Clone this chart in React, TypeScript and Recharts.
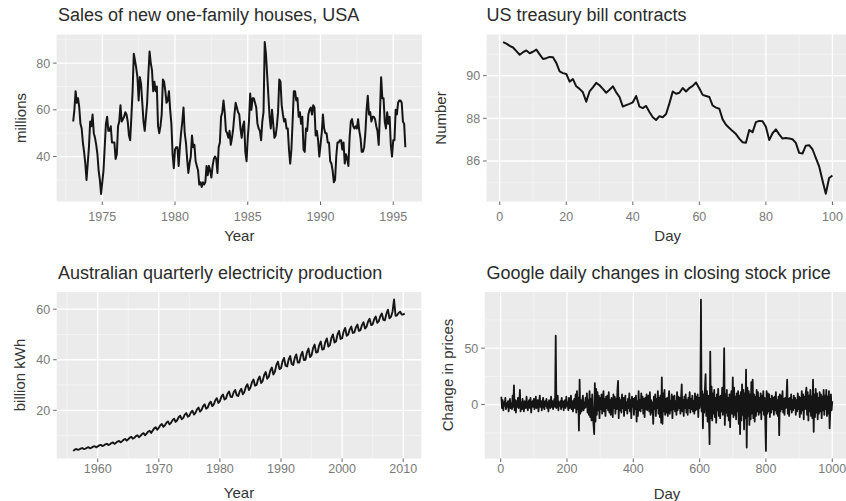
import React from "react";
import { LineChart, Line, XAxis, YAxis, CartesianGrid } from "recharts";

// Monthly new one-family house sales, Jan 1973 .. Nov 1995
const houseSales = [
  55, 60, 68, 63, 65, 61, 54, 52, 46, 42, 37, 30,
  37, 44, 55, 53, 58, 50, 48, 45, 41, 34, 30, 24,
  29, 34, 44, 54, 57, 51, 51, 53, 46, 46, 46, 39,
  41, 53, 55, 62, 55, 56, 57, 59, 58, 55, 49, 47,
  57, 68, 84, 81, 78, 74, 64, 74, 71, 63, 55, 51,
  57, 63, 75, 85, 80, 77, 68, 72, 68, 70, 53, 50,
  53, 58, 73, 72, 68, 63, 64, 68, 60, 54, 41, 35,
  43, 44, 44, 36, 44, 50, 55, 61, 50, 46, 39, 33,
  37, 40, 49, 44, 45, 38, 36, 34, 28, 29, 27, 29,
  28, 29, 36, 32, 36, 34, 31, 36, 39, 40, 39, 33,
  44, 46, 57, 59, 64, 59, 51, 50, 48, 51, 45, 48,
  52, 58, 63, 61, 59, 58, 52, 48, 53, 55, 42, 38,
  48, 55, 67, 60, 65, 65, 63, 61, 54, 52, 51, 47,
  55, 59, 89, 84, 75, 66, 57, 52, 60, 54, 48, 49,
  53, 59, 73, 72, 62, 58, 55, 56, 52, 52, 43, 37,
  43, 55, 68, 68, 64, 65, 57, 59, 54, 57, 43, 42,
  52, 51, 58, 60, 61, 58, 62, 61, 49, 51, 47, 40,
  45, 50, 58, 52, 50, 50, 46, 46, 38, 37, 34, 29,
  30, 40, 46, 46, 47, 47, 43, 46, 37, 41, 39, 36,
  48, 55, 56, 53, 52, 53, 52, 56, 51, 48, 42, 42,
  44, 50, 60, 66, 58, 59, 55, 57, 57, 56, 53, 51,
  45, 58, 74, 65, 65, 55, 52, 59, 54, 57, 45, 40,
  47, 47, 60, 58, 63, 64, 64, 63, 55, 54, 44,
];

// Treasury bill contracts, days 1..100
const treasury = [
  91.57, 91.5, 91.4, 91.32, 91.15, 90.98, 91.1, 91.18, 91.05, 91.12,
  91.22, 91.0, 90.78, 90.82, 90.88, 90.86, 90.6, 90.2, 90.12, 90.08,
  89.72, 89.84, 89.5, 89.38, 89.22, 88.78, 89.26, 89.45, 89.66, 89.55,
  89.38, 89.2, 89.34, 89.5, 89.22, 89.0, 88.55, 88.62, 88.68, 88.75,
  89.05, 88.55, 88.48, 88.58, 88.3, 88.05, 87.92, 88.1, 88.05, 88.2,
  88.7, 89.26, 89.15, 89.2, 89.42, 89.26, 89.42, 89.52, 89.68, 89.4,
  89.1, 89.05, 89.0, 88.6, 88.5, 88.45, 87.95, 87.7, 87.55, 87.4,
  87.26, 87.05, 86.88, 86.85, 87.45, 87.35, 87.82, 87.88, 87.86, 87.6,
  86.98, 87.3, 87.48, 87.25, 87.05, 87.08, 87.05, 87.02, 86.85, 86.38,
  86.35, 86.72, 86.74, 86.55, 86.15, 85.75, 85.1, 84.46, 85.2, 85.32,
];

// Quarterly electricity production, 1956 Q1 .. 2010 Q2
const electricity = [
  3.92, 4.44, 4.7, 4.35,  4.56, 4.9, 5.06, 4.68,  4.85, 5.2, 5.38, 4.97,
  5.23, 5.61, 5.8, 5.36,  5.7, 6.12, 6.33, 5.85,  6.08, 6.53, 6.75, 6.24,
  6.56, 7.04, 7.28, 6.73,  7.13, 7.65, 7.91, 7.31,  7.79, 8.36, 8.65, 8.0,
  8.55, 9.18, 9.5, 8.78,  9.12, 9.79, 10.13, 9.36,  9.88, 10.61, 10.97, 10.14,
  10.74, 11.53, 11.92, 11.02,  11.97, 12.85, 13.29, 12.29,  13.11, 14.08, 14.56, 13.46,
  14.06, 15.1, 15.61, 14.43,  15.01, 16.12, 16.67, 15.41,  16.06, 17.24, 17.83, 16.48,
  17.01, 18.26, 18.88, 17.45,  17.86, 19.18, 19.83, 18.33,  19.0, 20.4, 21.1, 19.5,
  20.14, 21.62, 22.37, 20.67,  21.09, 22.64, 23.42, 21.65,  22.33, 23.97, 24.79, 22.91,
  23.66, 25.4, 26.27, 24.28,  24.7, 26.52, 27.43, 25.35,  25.27, 27.13, 28.06, 25.94,
  25.65, 27.54, 28.49, 26.33,  27.27, 29.27, 30.28, 27.98,  28.98, 31.11, 32.18, 29.74,
  30.02, 32.23, 33.34, 30.81,  31.64, 33.97, 35.13, 32.47,  33.25, 35.7, 36.93, 34.13,
  35.34, 37.94, 39.25, 36.27,  36.67, 39.37, 40.72, 37.64,  37.34, 40.09, 41.46, 38.32,
  37.91, 40.7, 42.09, 38.9,  38.86, 41.72, 43.15, 39.88,  40.0, 42.94, 44.42, 41.05,
  41.8, 44.6, 46.0, 42.8,  43.0, 45.8, 47.2, 44.0,  44.2, 47.0, 48.4, 45.2,
  45.8, 48.6, 50.0, 46.8,  47.2, 50.0, 51.4, 48.2,  48.5, 51.2, 52.6, 49.5,
  50.0, 52.0, 53.1, 50.6,  50.8, 52.8, 53.9, 51.4,  51.7, 53.7, 54.8, 52.3,
  53.1, 55.1, 56.2, 53.7,  54.0, 56.0, 57.1, 54.6,  55.2, 57.2, 58.3, 55.8,
  55.6, 58.2, 59.8, 56.4,  57.0, 59.0, 63.8, 57.4,  57.6, 58.5, 59.0, 57.9,
  57.9, 58.2,
];

// Google daily closing price changes, every second day from day 2 to day 1000
const googleChange = [
  7, -3, 4, -5, 2, -1, 6, -4, 1, -2,
  3, -6, 2, 5, -3, 1, -4, 8, -2, 17,
  -5, 4, -7, 3, -2, 6, -3, 1, 13, -6,
  2, -4, 5, -2, -6, 3, 1, -3, 7, -1,
  -5, 2, 4, -3, 6, -7, 1, 3, -2, 5,
  -4, 1, 7, -3, -1, 4, -6, 2, 8, -2,
  3, -5, 1, 6, -2, -4, 3, -1, 5, -3,
  2, -6, 4, 1, -3, 7, -2, 3, -4, 1,
  5, -2, 61, -3, 4, 8, -5, 2, -1, 3,
  -4, 6, -2, 3, -5, 1, 4, -3, 7, -1,
  2, -5, 6, -3, 1, 8, -4, 3, -6, 2,
  5, -3, 9, -7, 12, -4, 6, -23, 22, -8,
  4, -6, 3, 8, -5, 2, -3, 6, -2, 10,
  -7, 4, -9, 12, -11, 5, -14, 9, -6, -18,
  -26, 19, -15, 14, -9, 11, -5, 8, -12, 6,
  -4, 9, -8, 3, 12, -6, 5, -10, 7, -3,
  8, -5, 11, -7, 4, -9, 6, 2, -11, 9,
  -3, 7, -8, 5, -4, 12, 21, -12, 6, -5,
  4, -7, 9, -3, 6, -10, 3, 8, -5, 2,
  -8, 5, -3, 10, -6, 4, -12, 7, -2, 5,
  -9, 6, -4, 8, -15, 3, -10, 12, -5, 4,
  -6, 10, -3, 7, -8, 5, -11, 6, -4, 9,
  -5, 3, 8, -6, 11, -9, 4, -7, 2, -17,
  7, -4, 9, -10, 5, -3, 12, -8, 6, -11,
  8, -16, 24, -17, 10, -6, 13, -9, 5, -7,
  6, -10, 4, 12, -8, 3, -5, 9, -12, 7,
  -4, 8, -6, 3, -9, 11, -5, 7, -3, 6,
  -8, 5, 18, -6, 4, -10, 7, -3, 9, -7,
  4, -9, 6, -3, 11, -7, 5, -4, 8, -6,
  3, -8, 10, -5, 7, -4, 9, -11, 6, -3,
  8, 93, -6, 12, -21, 9, -7, 14, 27, -10,
  12, -15, 8, -9, -35, 47, -12, 16, -14, 10,
  -8, 13, -11, 6, -16, 9, -5, 14, -10, 7,
  -12, 8, -6, 15, -9, 11, 50, -18, 9, -7,
  13, -10, 6, -14, 9, -20, 7, 12, -8, 24,
  -11, 15, -9, 7, -13, 10, -6, 12, -17, 8,
  -26, 11, -14, 18, -9, 13, -22, 10, -12, 31,
  -38, 15, -10, 12, -18, 9, -13, 20, -8, 22,
  -12, 9, -15, 7, -10, 13, -6, 11, -9, 6,
  -7, 10, -13, 8, -5, 12, -9, 6, -14, -41,
  12, -8, 10, -6, 9, -11, 5, -7, 8, -4,
  6, -9, 7, -5, 11, -8, 4, -10, 7, -27,
  9, -6, 8, -4, 12, -7, 5, -9, 6, -3,
  7, 22, -8, 5, -10, 6, -4, 9, -7, 4,
  -5, 8, -3, 6, -9, 4, -6, 10, -4, 7,
  -11, 6, -8, 12, -5, 9, -13, 7, -4, 10,
  15, -9, 11, -14, 8, -6, 13, -10, 7, -12,
  22, -24, 9, -11, 14, -7, 10, -13, 6, -8,
  11, -6, 9, -12, 7, -5, 13, -9, 8, -4,
  13, -10, 7, -8, 12, -21, -6, 9, -5, 3,
];

const yearTicksA = [1975, 1980, 1985, 1990, 1995];
const yearMinorA = [1972.5, 1977.5, 1982.5, 1987.5, 1992.5];
const salesTicks = [40, 60, 80];
const salesMinor = [30, 50, 70, 90];

const dayTicksB = [0, 20, 40, 60, 80, 100];
const dayMinorB = [10, 30, 50, 70, 90];
const treasuryTicks = [86, 88, 90];
const treasuryMinor = [85, 87, 89, 91];

const yearTicksC = [1960, 1970, 1980, 1990, 2000, 2010];
const yearMinorC = [1955, 1965, 1975, 1985, 1995, 2005];
const elecTicks = [20, 40, 60];
const elecMinor = [10, 30, 50];

const dayTicksD = [0, 200, 400, 600, 800, 1000];
const dayMinorD = [100, 300, 500, 700, 900];
const googTicks = [0, 50];
const googMinor = [-25, 25, 75];

const FONT = '"Liberation Sans", Arial, Helvetica, sans-serif';
const tickText = { fontSize: 12.5, fill: "#7a7a7a", fontFamily: FONT };

type Box = { left: number; top: number; width: number; height: number };
type Plot = { x0: number; x1: number; y0: number; y1: number };

interface PanelProps {
  data: { x: number; y: number }[];
  box: Box;
  plot: Plot;
  xDomain: [number, number];
  yDomain: [number, number];
  xTicks: number[];
  xMinor: number[];
  yTicks: number[];
  yMinor: number[];
  lineWidth: number;
  xTickGap: number;
}

function Panel(p: PanelProps) {
  const { box, plot } = p;
  const margin = {
    top: plot.y0 - box.top,
    right: box.left + box.width - plot.x1,
    bottom: 0,
    left: 0,
  };
  return (
    <div style={{ position: "absolute", left: box.left, top: box.top }}>
      <LineChart width={box.width} height={box.height} data={p.data} margin={margin}>
        <CartesianGrid
          fill="#EBEBEB"
          stroke="#F6F6F6"
          strokeWidth={0.7}
          horizontalValues={p.yMinor}
          verticalValues={p.xMinor}
        />
        <CartesianGrid
          stroke="#FFFFFF"
          strokeWidth={1.3}
          horizontalValues={p.yTicks}
          verticalValues={p.xTicks}
        />
        <XAxis
          type="number"
          dataKey="x"
          domain={p.xDomain}
          ticks={p.xTicks}
          interval={0}
          allowDataOverflow
          axisLine={false}
          tickSize={3.5}
          tickMargin={p.xTickGap}
          tickLine={{ stroke: "#666" }}
          tick={tickText}
          height={box.top + box.height - plot.y1}
        />
        <YAxis
          type="number"
          domain={p.yDomain}
          ticks={p.yTicks}
          interval={0}
          allowDataOverflow
          axisLine={false}
          tickSize={3.5}
          tickMargin={3}
          tickLine={{ stroke: "#666" }}
          tick={tickText}
          width={plot.x0 - box.left}
        />
        <Line
          type="linear"
          dataKey="y"
          stroke="#151515"
          strokeWidth={p.lineWidth}
          strokeLinejoin="round"
          dot={false}
          isAnimationActive={false}
        />
      </LineChart>
    </div>
  );
}

export default function App() {
  const salesData = houseSales.map((v, i) => ({ x: 1973 + i / 12, y: v }));
  const treasuryData = treasury.map((v, i) => ({ x: i + 1, y: v }));
  const elecData = electricity.map((v, i) => ({ x: 1956 + i / 4, y: v }));
  const googData = googleChange.map((v, i) => ({ x: (i + 1) * 2, y: v }));

  return (
    <div
      style={{
        position: "absolute",
        left: 0,
        top: 0,
        width: 846,
        height: 501,
        overflow: "hidden",
        background: "#fff",
        fontFamily: FONT,
      }}
    >
      <Panel
        data={salesData}
        box={{ left: 0, top: 0, width: 423, height: 250 }}
        plot={{ x0: 56.6, x1: 421.9, y0: 34.5, y1: 201.5 }}
        xDomain={[1971.86, 1996.97]}
        yDomain={[20.75, 92.25]}
        xTicks={yearTicksA}
        xMinor={yearMinorA}
        yTicks={salesTicks}
        yMinor={salesMinor}
        lineWidth={2}
        xTickGap={7.5}
      />
      <Panel
        data={treasuryData}
        box={{ left: 423, top: 0, width: 430, height: 250 }}
        plot={{ x0: 486.6, x1: 848.9, y0: 34.5, y1: 201.5 }}
        xDomain={[-3.95, 104.95]}
        yDomain={[84.1, 91.93]}
        xTicks={dayTicksB}
        xMinor={dayMinorB}
        yTicks={treasuryTicks}
        yMinor={treasuryMinor}
        lineWidth={2}
        xTickGap={7.5}
      />
      <Panel
        data={elecData}
        box={{ left: 0, top: 250, width: 423, height: 251 }}
        plot={{ x0: 56.7, x1: 421.3, y0: 292, y1: 458.5 }}
        xDomain={[1953.29, 2012.96]}
        yDomain={[0.93, 66.79]}
        xTicks={yearTicksC}
        xMinor={yearMinorC}
        yTicks={elecTicks}
        yMinor={elecMinor}
        lineWidth={1.9}
        xTickGap={2}
      />
      <Panel
        data={googData}
        box={{ left: 423, top: 250, width: 430, height: 251 }}
        plot={{ x0: 484.8, x1: 848.8, y0: 292, y1: 458.5 }}
        xDomain={[-47.9, 1049.9]}
        yDomain={[-47.7, 99.7]}
        xTicks={dayTicksD}
        xMinor={dayMinorD}
        yTicks={googTicks}
        yMinor={googMinor}
        lineWidth={1.8}
        xTickGap={2}
      />

      <svg
        width={846}
        height={501}
        style={{ position: "absolute", left: 0, top: 0, pointerEvents: "none" }}
        fontFamily={FONT}
      >
        <g fontSize={18} fill="#2b2b2b">
          <text x={58} y={21}>Sales of new one-family houses, USA</text>
          <text x={486.5} y={21}>US treasury bill contracts</text>
          <text x={58} y={278.5}>Australian quarterly electricity production</text>
          <text x={486.5} y={278.5}>Google daily changes in closing stock price</text>
        </g>
        <g fontSize={15} fill="#333" textAnchor="middle">
          <text x={239.3} y={241}>Year</text>
          <text x={667.7} y={241}>Day</text>
          <text x={239} y={497.5}>Year</text>
          <text x={667} y={498.5}>Day</text>
          <text transform="translate(20,118) rotate(-90)" dominantBaseline="central">millions</text>
          <text transform="translate(440,118) rotate(-90)" dominantBaseline="central">Number</text>
          <text transform="translate(19.5,375) rotate(-90)" dominantBaseline="central">billion kWh</text>
          <text transform="translate(447,375) rotate(-90)" dominantBaseline="central">Change in prices</text>
        </g>
      </svg>
    </div>
  );
}
